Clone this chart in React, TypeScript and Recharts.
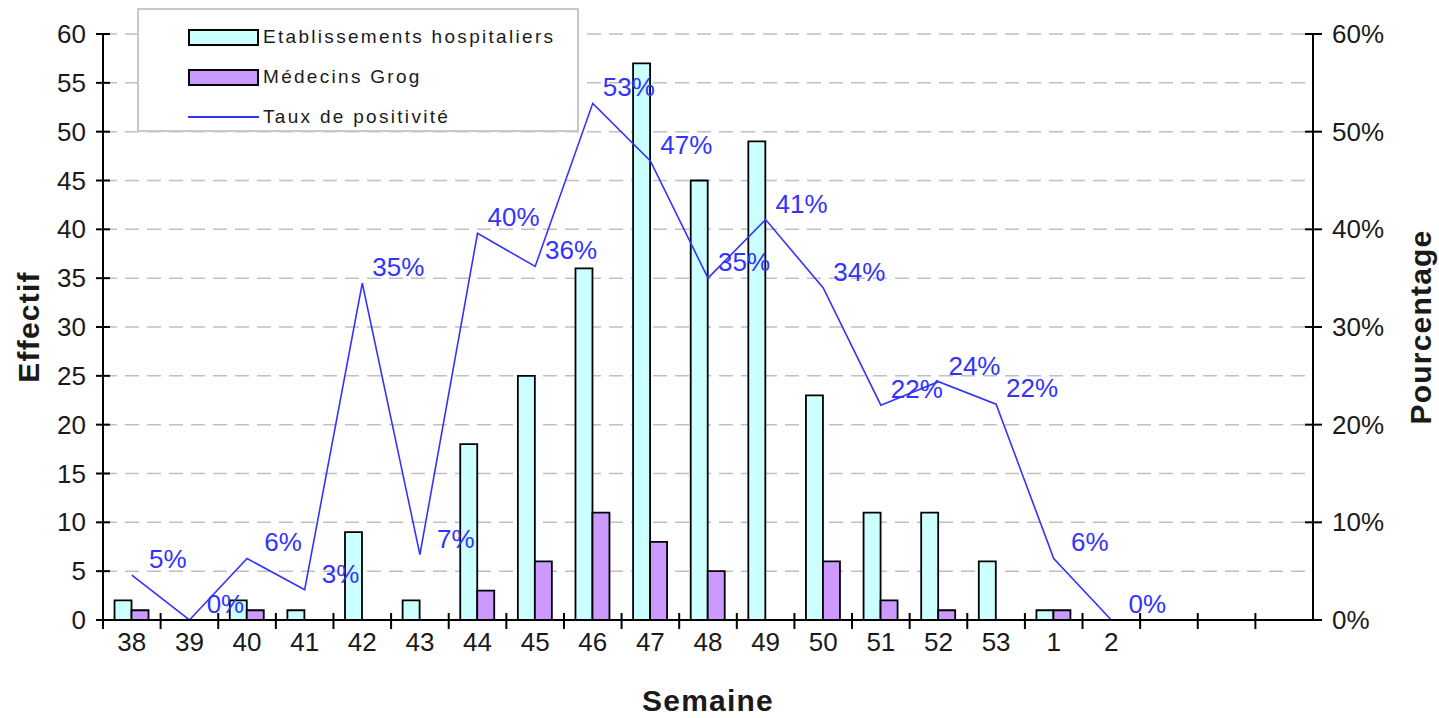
import React from 'react';
import { ComposedChart, Bar, Line, XAxis, YAxis, CartesianGrid, Legend, LabelList } from 'recharts';

// Data
const semaines = ['38', '39', '40', '41', '42', '43', '44', '45', '46', '47', '48', '49', '50', '51', '52', '53', '1', '2', ' ', '  ', '   '];
const etablissements = [2, 0, 2, 1, 9, 2, 18, 25, 36, 57, 45, 49, 23, 11, 11, 6, 1, 0, null, null, null];
const medecinsGrog = [1, 0, 1, 0, 0, 0, 3, 6, 11, 8, 5, 0, 6, 2, 1, 0, 1, 0, null, null, null];
const tauxPositivite = [0.046, 0, 0.063, 0.031, 0.345, 0.067, 0.396, 0.362, 0.529, 0.47, 0.35, 0.41, 0.34, 0.22, 0.244, 0.221, 0.063, 0, null, null, null];

const effectifTicks = [0, 5, 10, 15, 20, 25, 30, 35, 40, 45, 50, 55, 60];
const pourcentageTicks = [0, 0.1, 0.2, 0.3, 0.4, 0.5, 0.6];

const seriesNames = ['Etablissements hospitaliers', 'Médecins Grog', 'Taux de positivité'];

const data = semaines.map((s, i) => ({
  semaine: s,
  etab: etablissements[i],
  grog: medecinsGrog[i],
  taux: tauxPositivite[i],
}));

const W = 1439;
const H = 718;
const LEFT_W = 103;
const RIGHT_W = 126;
const TOP = 34;
const X_H = 98;
const BAND = (W - LEFT_W - RIGHT_W) / semaines.length;

const FONT = '"Liberation Sans", Arial, sans-serif';
const TXT = '#1a1a1a';
const BLUE = '#3333ff';

const XTick = (props: any) => {
  const { x, y, payload } = props;
  const bx = x - BAND / 2;
  return (
    <g>
      <line x1={bx} x2={bx} y1={y - 7} y2={y + 9} stroke="#000" strokeWidth={2} />
      <text x={x} y={y + 22} textAnchor="middle" dominantBaseline="central" fontSize={26} fill={TXT} fontFamily={FONT}>
        {payload.value}
      </text>
    </g>
  );
};

const LeftTick = (props: any) => {
  const { x, y, payload } = props;
  return (
    <g>
      <line x1={x - 7} x2={x + 7} y1={y} y2={y} stroke="#000" strokeWidth={2} />
      <text x={x - 17} y={y} textAnchor="end" dominantBaseline="central" fontSize={26} fill={TXT} fontFamily={FONT}>
        {payload.value}
      </text>
    </g>
  );
};

const RightTick = (props: any) => {
  const { x, y, payload } = props;
  return (
    <g>
      <line x1={x - 8} x2={x + 9} y1={y} y2={y} stroke="#000" strokeWidth={2} />
      <text x={x + 19} y={y} textAnchor="start" dominantBaseline="central" fontSize={26} fill={TXT} fontFamily={FONT}>
        {Math.round(payload.value * 100)}%
      </text>
    </g>
  );
};

const PctLabel = (props: any) => {
  const { x, y, value } = props;
  if (value == null) return null;
  return (
    <text x={x + 36} y={y - 16} textAnchor="middle" dominantBaseline="central" fontSize={26} fill={BLUE} fontFamily={FONT}>
      {Math.round(value * 100)}%
    </text>
  );
};

const titleStyle = { fontSize: 30, fontWeight: 700, letterSpacing: 1.2, fill: TXT, fontFamily: FONT };

const LeftTitle = (props: any) => {
  const { x, y, height } = props.viewBox;
  const cx = x + 28;
  const cy = y + height / 2;
  return (
    <text x={cx} y={cy} transform={`rotate(-90, ${cx}, ${cy})`} textAnchor="middle" dominantBaseline="central" style={titleStyle}>
      Effectif
    </text>
  );
};

const RightTitle = (props: any) => {
  const { x, y, height } = props.viewBox;
  const cx = x + 107;
  const cy = y + height / 2;
  return (
    <text x={cx} y={cy} transform={`rotate(-90, ${cx}, ${cy})`} textAnchor="middle" dominantBaseline="central" style={titleStyle}>
      Pourcentage
    </text>
  );
};

const BottomTitle = (props: any) => {
  const { x, y, width } = props.viewBox;
  return (
    <text x={x + width / 2} y={y + 80} textAnchor="middle" dominantBaseline="central" style={titleStyle}>
      Semaine
    </text>
  );
};

const legendText: React.CSSProperties = { fontSize: 19, letterSpacing: 2.3, color: TXT, fontFamily: FONT, marginLeft: 4, whiteSpace: 'nowrap' };

const LegendBox = () => (
  <div style={{ width: 442, height: 124, border: '2px solid #c8c8c8', background: '#fff', boxSizing: 'border-box', paddingTop: 7 }}>
    {seriesNames.map((name, i) => (
      <div key={name} style={{ display: 'flex', alignItems: 'center', height: 40, paddingLeft: 49 }}>
        {i < 2 ? (
          <div style={{ width: 71, height: 17, boxSizing: 'border-box', border: '2px solid #000', background: i === 0 ? '#ccffff' : '#cc99ff' }} />
        ) : (
          <div style={{ width: 71, height: 2, background: BLUE }} />
        )}
        <span style={legendText}>{name}</span>
      </div>
    ))}
  </div>
);

export default function App() {
  return (
    <div style={{ position: 'absolute', left: 0, top: 0, width: W, height: H, background: '#fff', fontFamily: FONT }}>
      <ComposedChart width={W} height={H} data={data} margin={{ top: TOP, right: 0, bottom: 0, left: 0 }} barGap={0} barCategoryGap="20%">
        <CartesianGrid yAxisId="left" vertical={false} stroke="#c0c0c0" strokeDasharray="14 8" strokeWidth={1.5} />
        <XAxis
          dataKey="semaine"
          height={X_H}
          interval={0}
          tickSize={0}
          tickMargin={0}
          tickLine={false}
          axisLine={{ stroke: '#000', strokeWidth: 2 }}
          tick={<XTick />}
          label={BottomTitle}
        />
        <YAxis
          yAxisId="left"
          orientation="left"
          width={LEFT_W}
          domain={[0, 60]}
          ticks={effectifTicks}
          interval={0}
          tickSize={0}
          tickMargin={0}
          tickLine={false}
          axisLine={{ stroke: '#000', strokeWidth: 2 }}
          tick={<LeftTick />}
          label={LeftTitle}
        />
        <YAxis
          yAxisId="right"
          orientation="right"
          width={RIGHT_W}
          domain={[0, 0.6]}
          ticks={pourcentageTicks}
          interval={0}
          tickSize={0}
          tickMargin={0}
          tickLine={false}
          axisLine={{ stroke: '#000', strokeWidth: 2 }}
          tick={<RightTick />}
          label={RightTitle}
        />
        <Legend
          layout="vertical"
          align="center"
          verticalAlign="middle"
          wrapperStyle={{ left: 137, top: 8, width: 442, height: 124 }}
          content={() => <LegendBox />}
        />
        <Bar yAxisId="left" dataKey="etab" name={seriesNames[0]} fill="#ccffff" stroke="#000" strokeWidth={1.8} isAnimationActive={false} />
        <Bar yAxisId="left" dataKey="grog" name={seriesNames[1]} fill="#cc99ff" stroke="#000" strokeWidth={1.8} isAnimationActive={false} />
        <Line
          yAxisId="right"
          type="linear"
          dataKey="taux"
          name={seriesNames[2]}
          stroke={BLUE}
          strokeWidth={1.6}
          dot={false}
          activeDot={false}
          connectNulls={false}
          isAnimationActive={false}
        >
          <LabelList dataKey="taux" content={PctLabel} />
        </Line>
      </ComposedChart>
    </div>
  );
}
